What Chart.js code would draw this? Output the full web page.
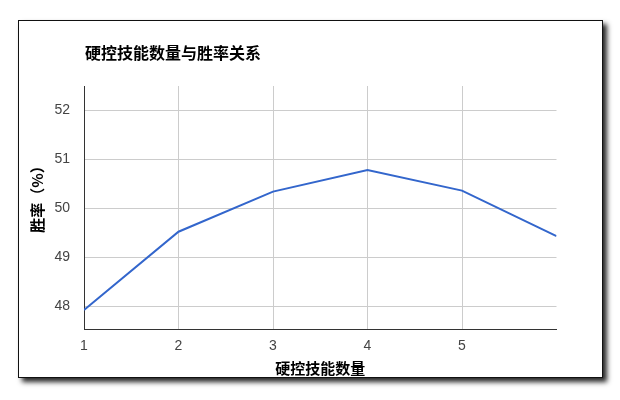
<!DOCTYPE html>
<html>
<head>
<meta charset="utf-8">
<script src="https://cdn.jsdelivr.net/npm/chart.js@4/dist/chart.umd.min.js"></script>
<style>
  html, body { margin: 0; padding: 0; background: #fff; }
  #wrap { position: relative; width: 620px; height: 400px; overflow: hidden; }
  #frame {
    position: absolute; left: 18px; top: 20px; width: 583px; height: 356px;
    border: 1px solid #111; background: #fff;
    box-shadow: 4px 4px 5px rgba(0,0,0,0.85);
  }
  #c { position: absolute; left: 0; top: 0; }
</style>
</head>
<body>
<div id="wrap">
  <div id="frame"></div>
  <canvas id="c" width="620" height="400"></canvas>
</div>
<script>
// ---- data ----
const chartTitle = '硬控技能数量与胜率关系';
const xAxisTitle = '硬控技能数量';
const yAxisTitle = '胜率（%）';
const skillCounts = [1, 2, 3, 4, 5, 6];
const winRates = [47.92, 49.52, 50.34, 50.78, 50.36, 49.43];
const xTickValues = [1, 2, 3, 4, 5];
const yTickValues = [48, 49, 50, 51, 52];

const points = skillCounts.map((x, i) => ({ x: x, y: winRates[i] }));

const textPlugin = {
  id: 'texts',
  afterDraw(chart) {
    const ctx = chart.ctx;
    ctx.save();
    ctx.fillStyle = '#000';
    ctx.font = 'bold 16px "Noto Sans CJK SC"';
    ctx.textAlign = 'left';
    ctx.textBaseline = 'middle';
    ctx.fillText(chartTitle, 85, 53);
    ctx.translate(37.5, 195.5);
    ctx.rotate(-Math.PI / 2);
    ctx.font = 'bold 15px "Noto Sans CJK SC"';
    ctx.textAlign = 'center';
    ctx.fillText(yAxisTitle, 0, 0);
    ctx.restore();
  }
};

new Chart(document.getElementById('c'), {
  type: 'line',
  data: {
    datasets: [{
      data: points,
      borderColor: '#3366cc',
      borderWidth: 2,
      pointRadius: 0,
      pointHoverRadius: 0,
      tension: 0,
      fill: false
    }]
  },
  options: {
    responsive: false,
    animation: false,
    devicePixelRatio: 1,
    layout: { padding: { left: 0, top: 86, right: 63.5, bottom: 0 } },
    plugins: { legend: { display: false }, title: { display: false }, tooltip: { enabled: false } },
    scales: {
      x: {
        type: 'linear',
        min: 1,
        max: 6,
        afterBuildTicks(scale) { scale.ticks = xTickValues.map(v => ({ value: v })); },
        afterFit(scale) { scale.height = 70.5; },
        grid: { color: '#cccccc', drawTicks: false, lineWidth: 1 },
        border: { display: true, color: '#333333', width: 1 },
        ticks: {
          color: '#444444',
          padding: 8,
          maxRotation: 0,
          font: { family: '"Liberation Sans", Arial', size: 14, lineHeight: 1.2 },
          callback: v => String(v)
        },
        title: {
          display: true,
          text: xAxisTitle,
          color: '#000',
          font: { family: '"Noto Sans CJK SC"', size: 15, weight: 'bold', lineHeight: 1.2 },
          padding: { top: 0, bottom: 23 }
        }
      },
      y: {
        type: 'linear',
        min: 47.52,
        max: 52.5,
        afterBuildTicks(scale) { scale.ticks = yTickValues.map(v => ({ value: v })); },
        afterFit(scale) { scale.width = 84; },
        grid: { color: '#cccccc', drawTicks: false, lineWidth: 1 },
        border: { display: true, color: '#333333', width: 1 },
        ticks: {
          color: '#444444',
          padding: 14,
          font: { family: '"Liberation Sans", Arial', size: 14 },
          callback: v => String(v)
        }
      }
    }
  },
  plugins: [textPlugin]
});
</script>
</body>
</html>
